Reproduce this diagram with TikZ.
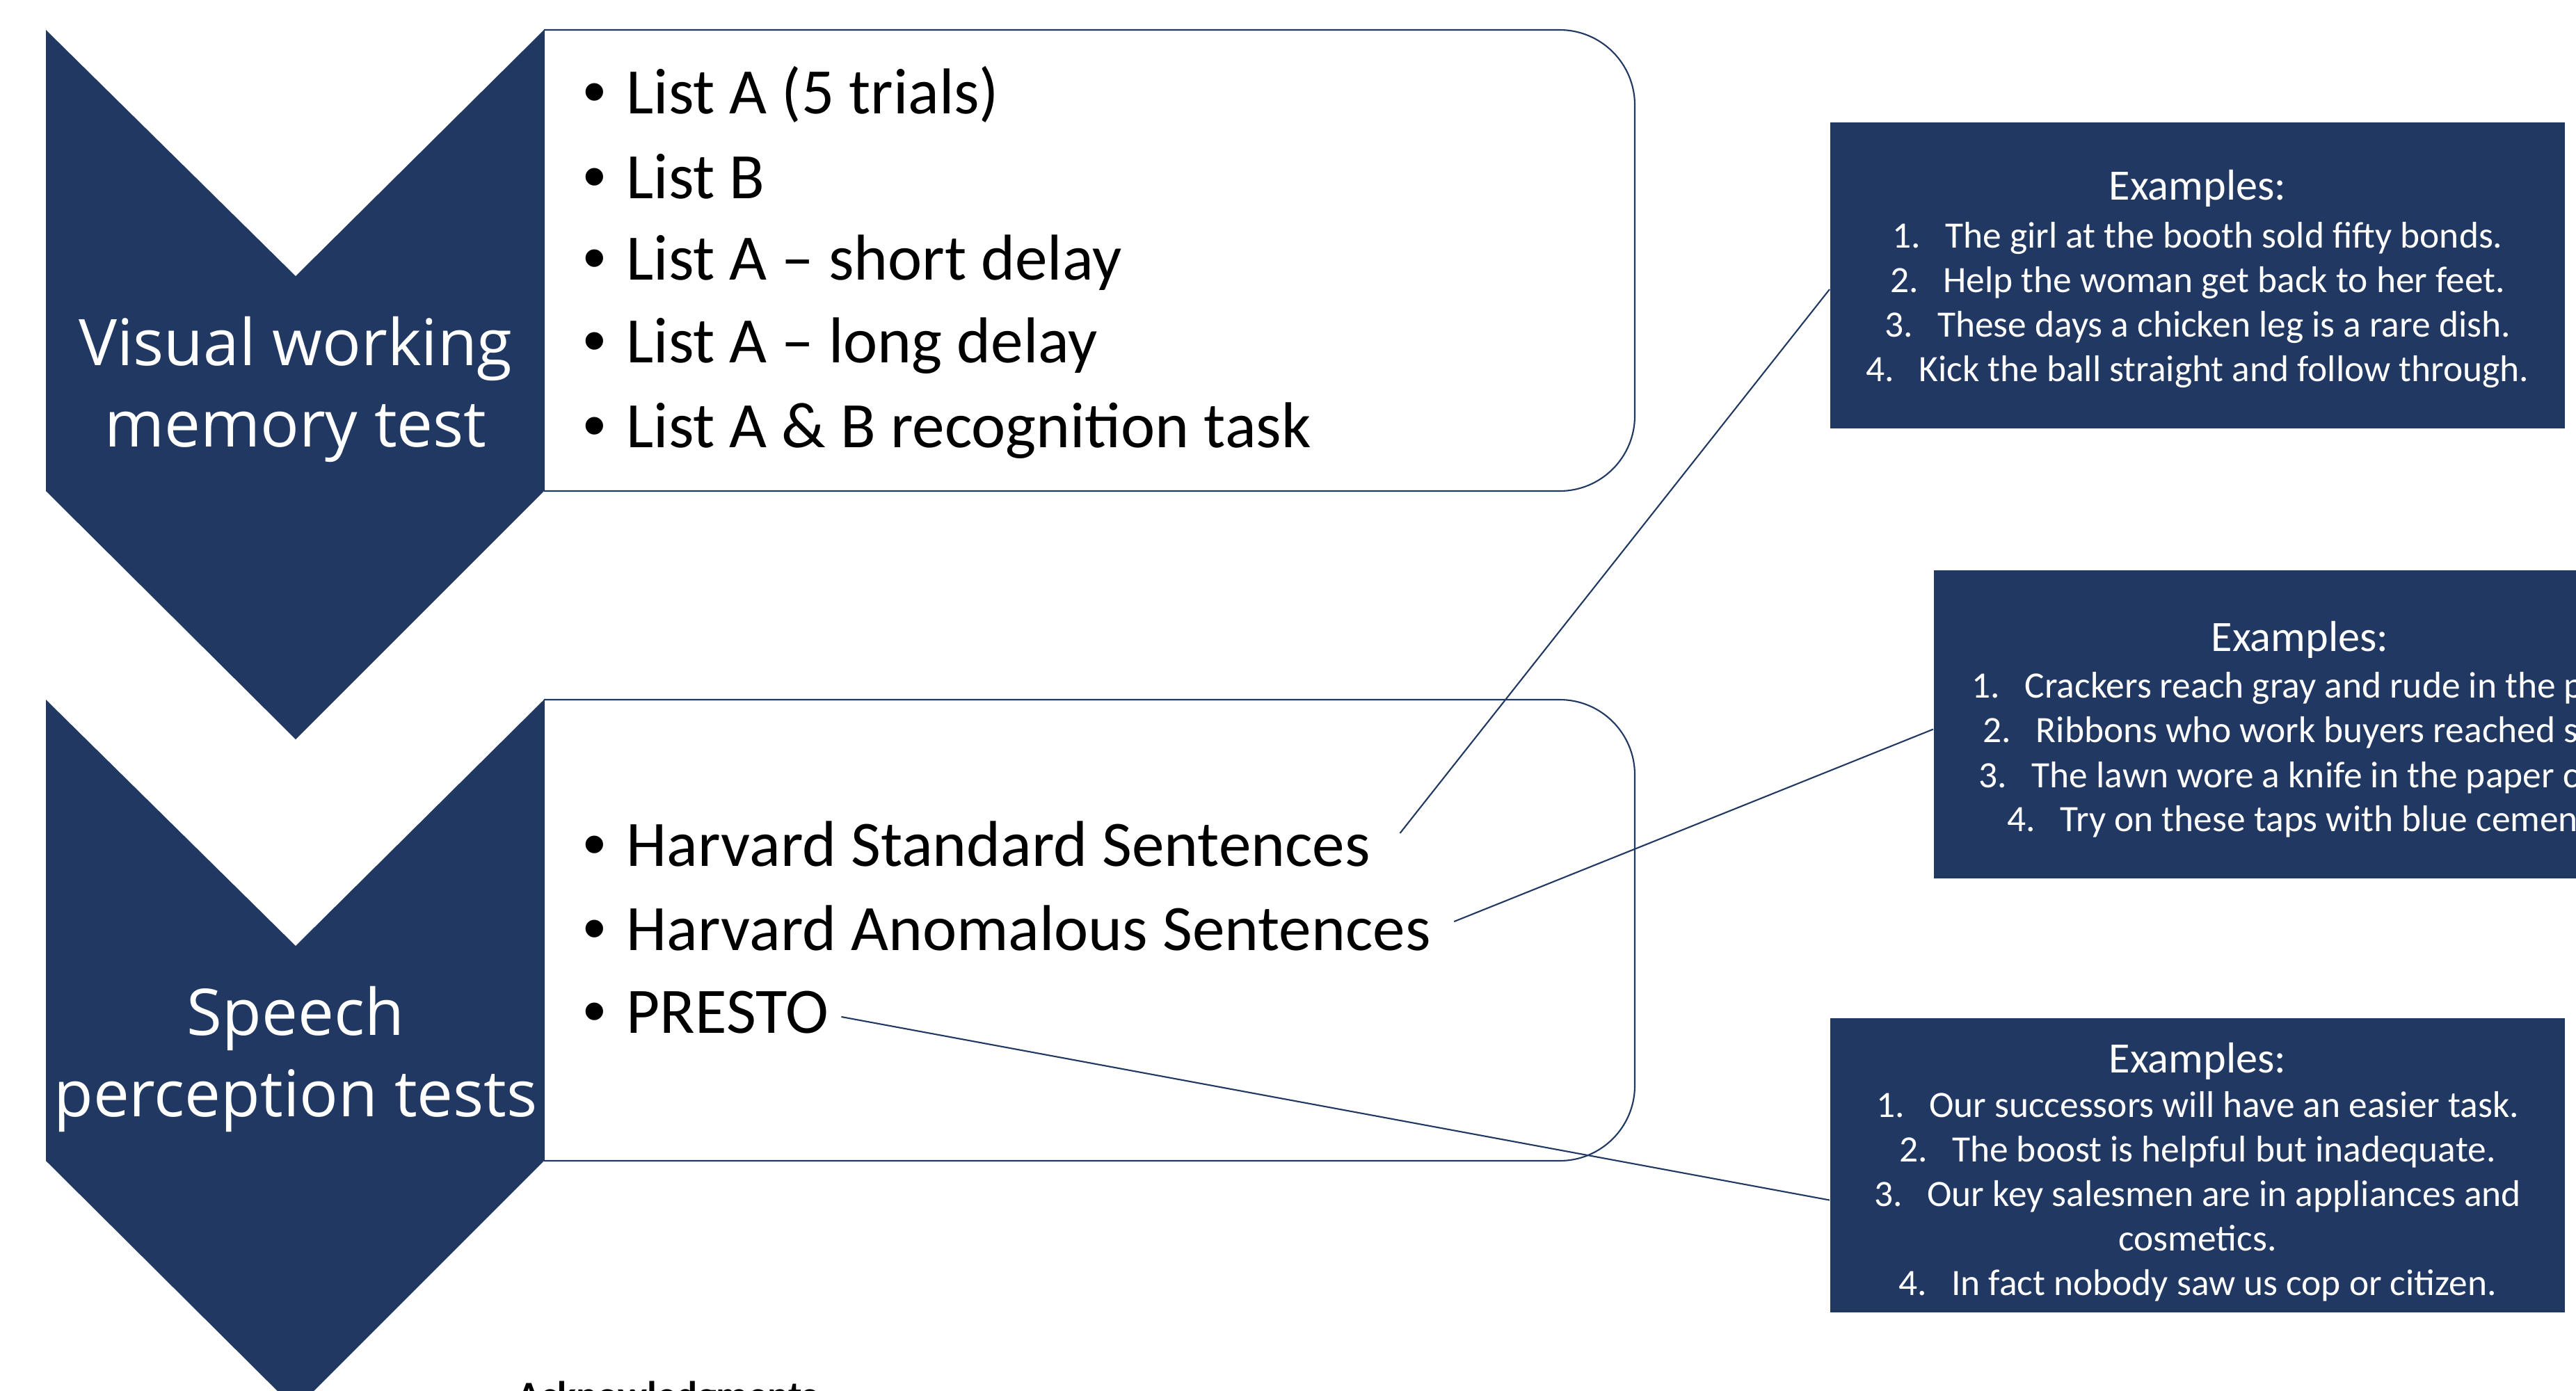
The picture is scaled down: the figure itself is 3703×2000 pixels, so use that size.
\documentclass[tikz,border=0pt]{standalone}
\usepackage{fontspec}
\setmainfont{Carlito}
\newfontfamily\labelfont{Open Sans}
\newfontfamily\dotfont{Liberation Sans}
\definecolor{navy}{RGB}{33,56,98}
\newcommand{\itm}{\llap{{\dotfont\textbullet}\hspace{0.3cm}}}
\newcommand{\nr}[1]{\makebox[0.76cm][l]{#1}}
\newcommand{\exhead}{{\fontsize{17.7}{21}\selectfont Examples:}}

\begin{document}
\begin{tikzpicture}[x=0.01cm, y=-0.01cm,
    chevron/.style={fill=navy},
    panel/.style={draw=navy, line width=0.6pt},
    link/.style={draw=navy, line width=0.6pt},
    stage/.style={text=white, font=\labelfont\fontsize{26.3}{33.3}\selectfont, align=center, inner sep=0pt},
    item/.style={anchor=base west, inner sep=0pt, font=\fontsize{26.5}{34}\selectfont},
    exbox/.style={fill=navy, minimum width=10.56cm, inner sep=0pt},
    extext/.style={text=white, inner sep=0pt, align=center, font=\fontsize{15.2}{18.2}\selectfont},
    exline/.style={anchor=base west, inner sep=0pt, text=white, font=\fontsize{15.2}{18.2}\selectfont}]

    \useasboundingbox (0,0) rectangle (3703,2000);
    \clip (0,0) rectangle (3703,2000);

    % visual working memory
    \draw[panel, rounded corners=1.08cm] (782,43) -- (2350,43) -- (2350,706) -- (782,706);
    \draw[panel] (782,43) -- (782,706);
    \fill[chevron] (66,43) -- (425,397) -- (782,43) -- (782,706) -- (425,1063) -- (66,706) -- cycle;
    \node(vwm) at (425,560) [stage] {Visual working\\memory test};
    \node(lista) at (900,164) [item] {\itm List A (5 trials)};
    \node(listb) at (900,285) [item] {\itm List B};
    \node(short) at (900,402) [item] {\itm List A -- short delay};
    \node(long) at (900,521) [item] {\itm List A -- long delay};
    \node(recog) at (900,643) [item] {\itm List A \& B recognition task};

  \begin{scope}[shift={(0,963)}]
    \draw[panel, rounded corners=1.08cm] (782,43) -- (2350,43) -- (2350,706) -- (782,706);
    \draw[panel] (782,43) -- (782,706);
    \fill[chevron] (66,43) -- (425,397) -- (782,43) -- (782,706) -- (425,1063) -- (66,706) -- cycle;
    \node(spt) at (425,560) [stage] {Speech\\perception tests};
    \node(hss) at (900,282) [item] {\itm Harvard Standard Sentences};
    \node(has) at (900,403) [item] {\itm Harvard Anomalous Sentences};
    \node(presto) at (900,522) [item] {\itm PRESTO};
  \end{scope}

    % examples
    \node(ex1) at (3159,396) [exbox, minimum height=4.40cm] {};
    \node(ex1txt) at (3159,401) [extext] {\exhead\\[0.05cm]
      \nr{1.}The girl at the booth sold fifty bonds.\\
      \nr{2.}Help the woman get back to her feet.\\
      \nr{3.}These days a chicken leg is a rare dish.\\
      \nr{4.}Kick the ball straight and follow through.};

    \node(ex2) at (3308,1041.5) [exbox, minimum height=4.43cm] {};
    \node(ex2head) at (3306,936) [exline, anchor=base] {\exhead};
    \foreach \x/\y/\i/\t in {2834/1003/1/Crackers reach gray and rude in the p,
                            2850/1067/2/Ribbons who work buyers reached sa,
                            2844/1132/3/The lawn wore a knife in the paper c,
                            2885/1195/4/Try on these taps with blue cement}
      \node(exb\i) at (\x,\y) [exline] {\nr{\i.}\t};

    \node(ex3) at (3159,1675.5) [exbox, minimum height=4.23cm] {};
    \node(ex3txt) at (3159,1685.5) [extext] {\exhead\\
      \nr{1.}Our successors will have an easier task.\\
      \nr{2.}The boost is helpful but inadequate.\\
      \nr{3.}Our key salesmen are in appliances and\\
      cosmetics.\\
      \nr{4.}In fact nobody saw us cop or citizen.};

    \draw[link] ([shift={(42,-47)}]hss.base east) -- ([yshift=-0.2cm]ex1.west);
    \draw[link] ([shift={(33,-41)}]has.base east) -- ([yshift=-0.07cm]ex2.west);
    \draw[link] ([shift={(18,-23)}]presto.base east) -- ([yshift=-0.5cm]ex3.west);

    \node(ack) at (743,2025) [anchor=base west, inner sep=0pt, font=\bfseries\fontsize{16}{19}\selectfont] {Acknowledgments};
\end{tikzpicture}
\end{document}
